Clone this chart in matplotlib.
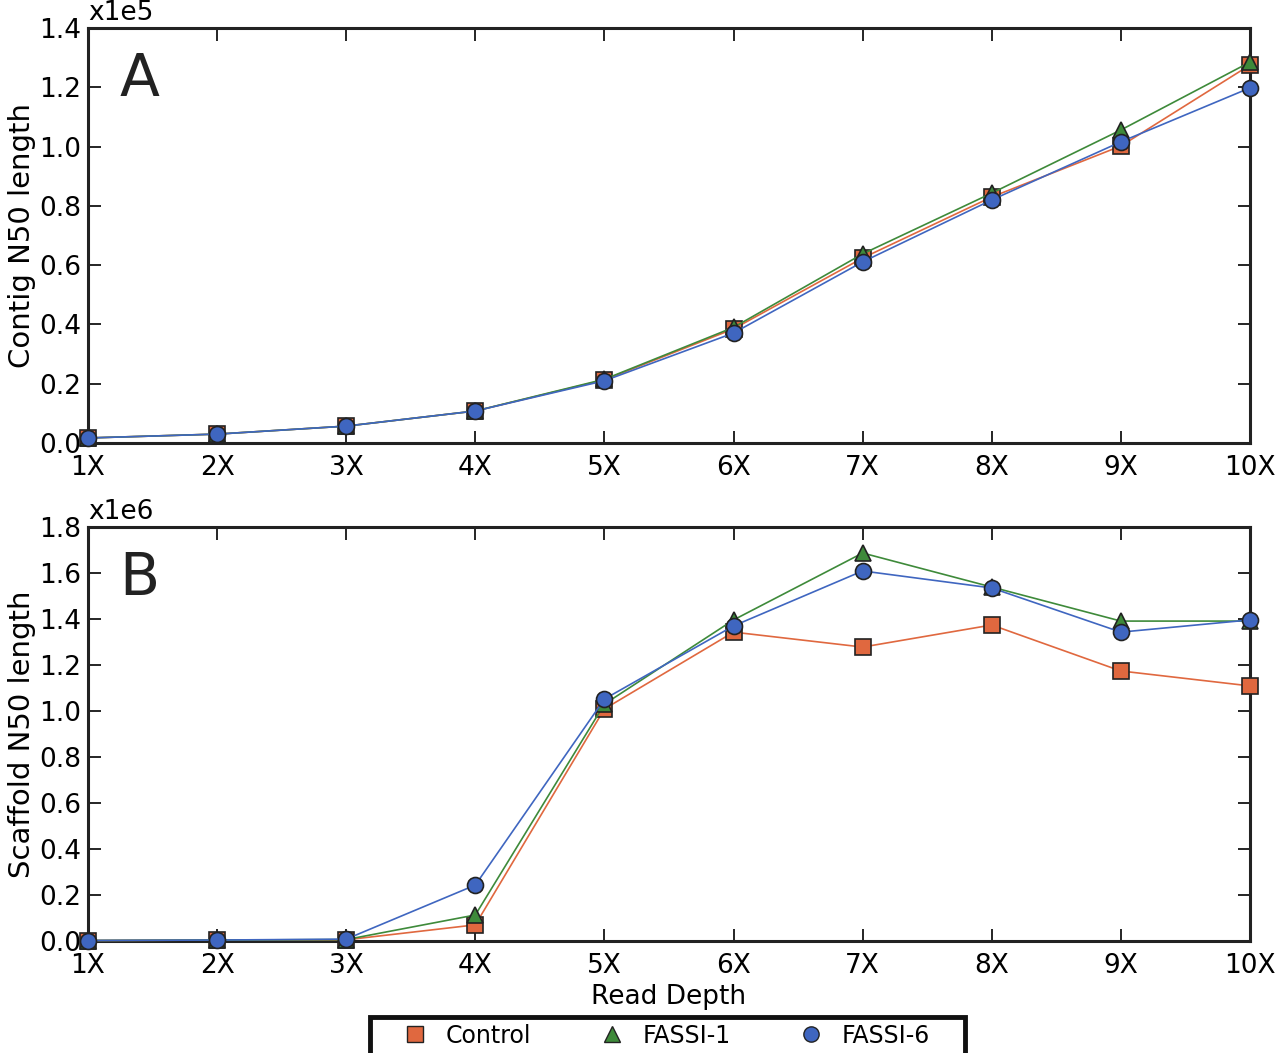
import numpy as np
import matplotlib.pyplot as plt
from matplotlib.lines import Line2D
from matplotlib.patches import Rectangle

depth = [1, 2, 3, 4, 5, 6, 7, 8, 9, 10]
depth_labels = ['1X', '2X', '3X', '4X', '5X', '6X', '7X', '8X', '9X', '10X']

# contig N50 (x1e5)
contig_control = [0.017, 0.030, 0.057, 0.108, 0.213, 0.385, 0.624, 0.830, 1.002, 1.275]
contig_fassi1 = [0.017, 0.030, 0.057, 0.108, 0.215, 0.390, 0.638, 0.843, 1.056, 1.285]
contig_fassi6 = [0.017, 0.030, 0.057, 0.108, 0.210, 0.371, 0.611, 0.820, 1.016, 1.198]

# scaffold N50 (x1e6)
scaf_control = [0.002, 0.004, 0.005, 0.070, 1.009, 1.343, 1.278, 1.374, 1.174, 1.109]
scaf_fassi1 = [0.002, 0.004, 0.006, 0.113, 1.030, 1.396, 1.687, 1.539, 1.391, 1.391]
scaf_fassi6 = [0.002, 0.004, 0.008, 0.243, 1.052, 1.370, 1.609, 1.535, 1.343, 1.396]

names = ['Control', 'FASSI-1', 'FASSI-6']
colors = ['#E0683F', '#3E8A3A', '#3F66C0']
markers = ['s', '^', 'o']

plt.rcParams['font.family'] = ['DejaVu Sans']

fig = plt.figure(figsize=(12.8, 10.53), dpi=100)
axA = fig.add_axes([0.06875, 0.5793, 0.9078, 0.3941])
axB = fig.add_axes([0.06875, 0.1064, 0.9078, 0.3931])


def draw(ax, series, ymax, ystep, ylabel, mult, letter):
    for vals, c, m in zip(series, colors, markers):
        ax.plot(depth, vals, color=c, lw=1.2, marker=m, ms=11.5,
                markerfacecolor=c, markeredgecolor='#222222', markeredgewidth=1.2,
                clip_on=False, zorder=3)
    ax.set_xlim(1, 10)
    ax.set_ylim(0, ymax)
    ax.set_xticks(depth)
    ax.set_xticklabels(depth_labels)
    yt = np.arange(0, ymax + 1e-9, ystep)
    ax.set_yticks(yt)
    ax.set_yticklabels(['%.1f' % v for v in yt])
    ax.tick_params(direction='in', length=9, width=1.2, top=True, right=True,
                   labelsize=19)
    ax.tick_params(axis='x', pad=9)
    ax.tick_params(axis='y', pad=5)
    for s in ax.spines.values():
        s.set_linewidth(2.2)
        s.set_color('#222222')
    ax.set_ylabel(ylabel, fontsize=21, labelpad=2)
    ax.text(0.0, 1.005, mult, transform=ax.transAxes, fontsize=19,
            ha='left', va='bottom')
    ax.text(0.027, 0.875, letter, transform=ax.transAxes, fontsize=42,
            ha='left', va='center', color='#222222')


draw(axA, [contig_control, contig_fassi1, contig_fassi6], 1.4, 0.2,
     'Contig N50 length', 'x1e5', 'A')
draw(axB, [scaf_control, scaf_fassi1, scaf_fassi6], 1.8, 0.2,
     'Scaffold N50 length', 'x1e6', 'B')
axB.set_xlabel('Read Depth', fontsize=19, labelpad=3)

handles = [Line2D([], [], ls='none', marker=m, ms=11, markerfacecolor=c,
                  markeredgecolor='#222222', markeredgewidth=1.0)
           for c, m in zip(colors, markers)]
leg = fig.legend(handles, names, loc='lower center', bbox_to_anchor=(0.516, -0.014),
                 ncol=3, fontsize=17, frameon=False,
                 columnspacing=2.4, handletextpad=0.3, borderpad=0.35,
                 borderaxespad=0.5)

# wider box around the legend, like the original
fig.patches.append(Rectangle((0.2891, -0.01), 0.4648, 0.0442, transform=fig.transFigure,
                             fill=False, lw=3.5, ec='#111111', zorder=5))

fig.savefig('out.png', dpi=100)
